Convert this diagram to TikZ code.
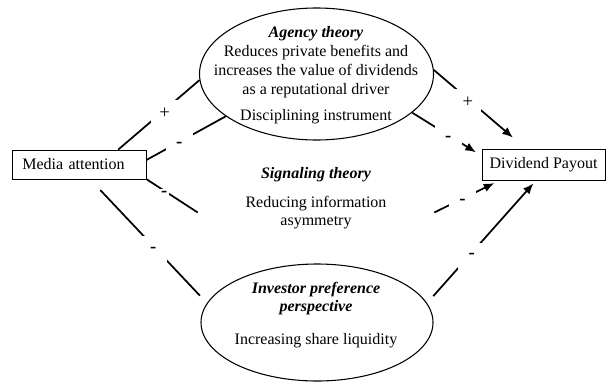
\documentclass[tikz,border=0pt]{standalone}
\usepackage{fontspec}
\setmainfont{Liberation Serif}
\usetikzlibrary{positioning,arrows.meta,shapes.geometric}

\newcommand{\theoryname}[1]{\textbf{\textit{#1}}}

\begin{document}
\begin{tikzpicture}[x=0.75pt, y=-0.75pt, font=\fontsize{12}{13.9}\selectfont, >={Latex[length=8pt,width=6.5pt]},
  box/.style={draw, line width=0.6pt, minimum width=100.5pt, minimum height=21.75pt, inner sep=0pt},
  theory/.style={draw, ellipse, line width=0.8pt, inner sep=0pt},
  body/.style={align=center, inner sep=0pt},
  link/.style={line width=1.3pt},
  sign/.style={fill=white, inner sep=0pt, minimum size=20pt, yshift=-2.5pt, font=\fontsize{14}{15}\selectfont}]
\useasboundingbox (0,0) rectangle (606,382);
% the two end boxes
\node[box, anchor=west, text width=85.5pt, inner xsep=7.5pt, align=left] (media) at (12,164.5) {Media attention};
\node[box, minimum width=92.25pt, minimum height=23.25pt] (payout) at (543.5,164.5) {Dividend Payout};
% theory ellipses (text set separately)
\node[theory, minimum width=175.5pt, minimum height=99pt] (agency) at (316.5,74) {};
\node[theory, minimum width=174pt, minimum height=87.75pt] (investor) at (317,322.5) {};
\node[body] (agencytext) at (316,75) {\theoryname{Agency theory}\\[1pt]
  Reduces private benefits and\\ increases the value of dividends\\ as a reputational driver\\[6pt]
  Disciplining instrument};
\node[body] (sigtitle) at (316,175) {\theoryname{Signaling theory}};
\node[body, minimum width=177pt] (sigtext) at (316,212.5) {Reducing information\\ asymmetry};
\node[body] (invtext) at (316,315) {\theoryname{Investor preference}\\ \theoryname{perspective}\\[10.9pt]
  Increasing share liquidity};
% media attention -> theories
\draw[link] (media.21) -- node[sign, pos=.57] {+} (agency.183);
\draw[link] (media.4) -- node[sign, pos=.41] {\textbf{-}} (agency.205);
\draw[link] (media.south east) -- node[sign, pos=.34, minimum size=8pt] {\textbf{-}} (sigtext.west);
\draw[link, shorten <=11pt, shorten >=7.7pt] (media.-54) -- node[sign, pos=.54] {\textbf{-}} (investor.170);
% theories -> dividend payout
\draw[link, ->, shorten >=12.75pt] (agency.2) -- node[sign, pos=.37] {+} (payout.138);
\draw[link, ->, shorten >=5pt] (agency.-22) -- node[sign, pos=.52] {\textbf{-}} (payout.172);
\draw[link, ->, shorten >=4.5pt] (sigtext.east) -- node[sign, pos=.43] {\textbf{-}} (payout.200);
\draw[link, ->, shorten <=7pt, shorten >=3pt] (investor.10) -- node[sign, pos=.41] {\textbf{-}} (payout.245);
\end{tikzpicture}
\end{document}
